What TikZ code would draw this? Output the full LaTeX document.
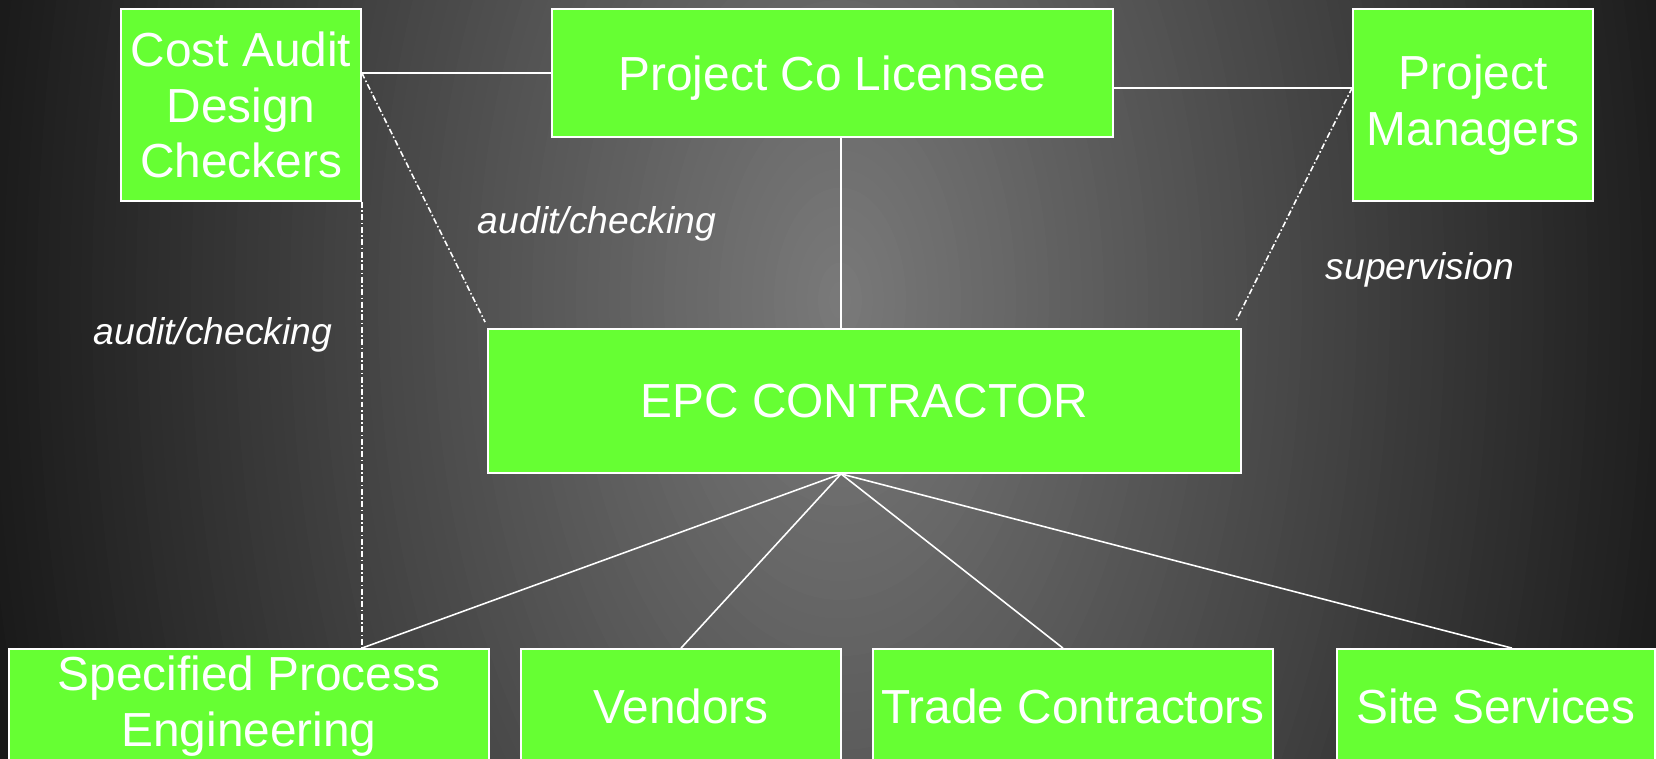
\documentclass[tikz,border=0pt]{standalone}
\usepackage{fontspec}
\setmainfont{Liberation Sans}
\usepackage{tikz}
\usetikzlibrary{calc}
\definecolor{boxgreen}{RGB}{102,255,51}
\definecolor{bglight}{RGB}{122,122,122}
\definecolor{bgdark}{RGB}{24,24,24}
\tikzset{
  box/.style={rectangle, draw=white, fill=boxgreen, line width=0.5pt,
    align=center, text=white, inner sep=0pt,
    font=\fontsize{13.6}{15.9}\selectfont},
  link/.style={draw=white, line width=0.45pt},
  check/.style={draw=white, line width=0.45pt,
    dash pattern=on 1.7pt off 0.7pt on 0.45pt off 0.7pt},
  tag/.style={text=white, font=\fontsize{10.6}{12}\selectfont\itshape}
}

\begin{document}
\begin{tikzpicture}
  % Canvas and background glow
  \useasboundingbox (0,0) rectangle (16.56,-7.59);
  \clip (0,0) rectangle (16.56,-7.59);
  \fill[bgdark] (0,0) rectangle (16.56,-7.59);
  \foreach \k in {80,79,...,1} {
    \pgfmathsetmacro\p{100*(1-\k/80)}
    \fill[bglight!\p!bgdark] (8.4,-3.0) ellipse ({8.8*\k/80} and {15*\k/80});
  }

  % Top row
  \node[box, minimum width=2.4cm, minimum height=1.92cm] (cost) at (2.41,-1.05) {Cost Audit\\Design\\Checkers};
  \node[box, minimum width=5.61cm, minimum height=1.28cm, text depth=0pt] (licensee) at (8.325,-0.73) {Project Co Licensee};
  \node[box, minimum width=2.4cm, minimum height=1.92cm] (managers) at (14.73,-1.05) {Project\\Managers};

  % Main contractor
  \node[box, minimum width=7.53cm, minimum height=1.44cm] (epc) at (8.645,-4.01) {EPC CONTRACTOR};

  % Bottom row
  \node[box, minimum width=4.8cm, minimum height=1.14cm] (spec) at (2.49,-7.06) {Specified Process\\Engineering};
  \node[box, minimum width=3.2cm, minimum height=1.14cm] (vendors) at (6.81,-7.06) {Vendors};
  \node[box, minimum width=4.0cm, minimum height=1.14cm] (trade) at (10.73,-7.06) {Trade Contractors};
  \node[box, minimum width=3.18cm, minimum height=1.14cm] (site) at (14.96,-7.06) {Site Services};

  % Junction points
  \coordinate (hub) at ($(epc.south)+(-0.235,0)$);
  \coordinate (costjoin) at (cost.east |- licensee.west);
  \coordinate (pmjoin) at (licensee.-3.3 -| managers.west);
  \coordinate (spectop) at (cost.south east |- spec.north);

  % Solid links
  \draw[link] (licensee.west) -- (costjoin);
  \draw[link] (licensee.-3.3) -- (pmjoin);
  \draw[link] (hub |- licensee.south) -- (hub |- epc.north);
  \draw[link] (hub) -- (spectop);
  \draw[link] (hub) -- (vendors.north);
  \draw[link] (hub) -- ($(trade.north)+(-0.1,0)$);
  \draw[link] (hub) -- ($(site.north)+(0.16,0)$);

  % Checking lines
  \draw[check] (costjoin) -- ($(epc.north west)+(-0.02,0.06)$);
  \draw[check] (pmjoin) -- ($(epc.north east)+(-0.06,0.07)$);
  \draw[check] (cost.south east) -- (spectop);

  % Labels
  \node[tag] (tagmid) at (5.97,-2.235) {audit/checking};
  \node[tag] (tagpm) at (14.2,-2.695) {supervision};
  \node[tag] (tagleft) at (2.13,-3.345) {audit/checking};
\end{tikzpicture}
\end{document}
